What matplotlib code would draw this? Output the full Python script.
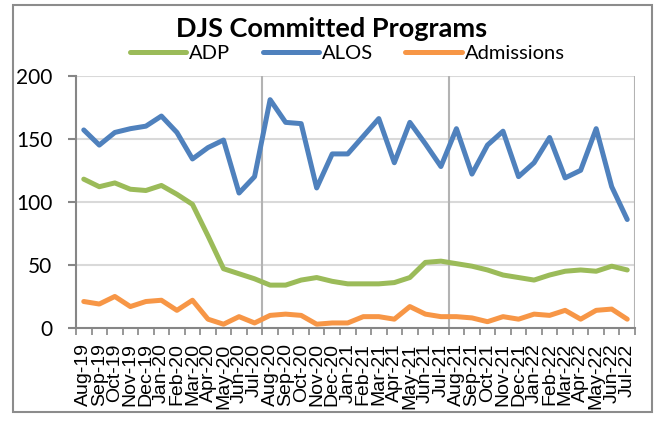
import matplotlib
matplotlib.use("Agg")
import matplotlib.pyplot as plt
from matplotlib.patches import Rectangle

months = ["Aug-19", "Sep-19", "Oct-19", "Nov-19", "Dec-19", "Jan-20", "Feb-20", "Mar-20",
          "Apr-20", "May-20", "Jun-20", "Jul-20", "Aug-20", "Sep-20", "Oct-20", "Nov-20",
          "Dec-20", "Jan-21", "Feb-21", "Mar-21", "Apr-21", "May-21", "Jun-21", "Jul-21",
          "Aug-21", "Sep-21", "Oct-21", "Nov-21", "Dec-21", "Jan-22", "Feb-22", "Mar-22",
          "Apr-22", "May-22", "Jun-22", "Jul-22"]

adp = [118, 112, 115, 110, 109, 113, 106, 98, 73, 47, 43, 39,
       34, 34, 38, 40, 37, 35, 35, 35, 36, 40, 52, 53,
       51, 49, 46, 42, 40, 38, 42, 45, 46, 45, 49, 46]

alos = [157, 145, 155, 158, 160, 168, 155, 134, 143, 149, 107, 120,
        181, 163, 162, 111, 138, 138, 152, 166, 131, 163, 146, 128,
        158, 122, 145, 156, 120, 131, 151, 119, 125, 158, 112, 86]

admissions = [21, 19, 25, 17, 21, 22, 14, 22, 7, 3, 9, 4,
              10, 11, 10, 3, 4, 4, 9, 9, 7, 17, 11, 9,
              9, 8, 5, 9, 7, 11, 10, 14, 7, 14, 15, 7]

yticks = [0, 50, 100, 150, 200]

fig = plt.figure(figsize=(6.59, 4.22), dpi=100)
fig.patch.set_facecolor("white")
fig.patches.append(Rectangle((13 / 659, 10 / 422), 639 / 659, 407 / 422,
                             transform=fig.transFigure, fill=False,
                             edgecolor="#8c8c8c", linewidth=1.5, zorder=0))

ax = fig.add_axes([76 / 659, 94 / 422, 559 / 659, 252.3 / 422])
x = list(range(len(months)))
lw = 3.6
ax.plot(x, adp, color="#9BBB59", lw=lw, solid_capstyle="round", solid_joinstyle="round", label="ADP", zorder=3)
ax.plot(x, alos, color="#4F81BD", lw=lw, solid_capstyle="round", solid_joinstyle="round", label="ALOS", zorder=3)
ax.plot(x, admissions, color="#F79646", lw=lw, solid_capstyle="round", solid_joinstyle="round", label="Admissions", zorder=3)

ax.set_xlim(-0.5, len(months) - 0.5)
ax.set_ylim(0, 200)
ax.set_yticks(yticks)
for yv in yticks[1:]:
    ax.axhline(yv, color="#d9d9d9", lw=1.5, zorder=1)
for xv in [11.5, 23.5, 35.5]:
    ax.axvline(xv, color="#b3b3b3", lw=1.5, zorder=1)

ax.set_xticks(x)
ax.set_xticklabels(months, rotation=90, fontsize=14, family="Liberation Sans")
ax.set_xticks([i - 0.5 for i in range(len(months) + 1)], minor=True)
ax.tick_params(axis="x", which="major", length=0, pad=11)
ax.tick_params(axis="x", which="minor", length=5, width=1.2, color="#868686", direction="out")
ax.tick_params(axis="y", length=6, width=1.5, color="#868686", pad=11, labelsize=15)
for lab in ax.get_yticklabels():
    lab.set_family("Lato")

for s in ["top", "right"]:
    ax.spines[s].set_visible(False)
for s in ["left", "bottom"]:
    ax.spines[s].set_color("#868686")
    ax.spines[s].set_linewidth(1.5)

fig.text(0.503, 0.932, "DJS Committed Programs", ha="center", va="center",
         fontsize=19.5, fontweight="bold", family="Lato")
fig.legend(loc="center", bbox_to_anchor=(0.527, 0.874), ncol=3, frameon=False,
           handlelength=2.8, handletextpad=0.15, columnspacing=1.6,
           prop={"family": "Lato", "size": 14.5})

fig.savefig("out.png", dpi=100, facecolor="white")
